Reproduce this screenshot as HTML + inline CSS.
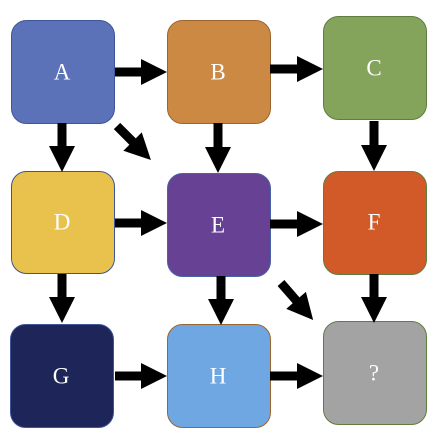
<!DOCTYPE html>
<html><head><meta charset="utf-8"><style>
html,body{margin:0;padding:0;background:#fff;}
svg{display:block;}
text{font-family:"Liberation Serif",serif;font-size:23px;fill:#fff;text-anchor:middle;dominant-baseline:central;}
</style></head><body>
<svg width="444" height="436" viewBox="0 0 444 436" xmlns="http://www.w3.org/2000/svg">
<g stroke-width="1">
<rect x="11.5" y="20.5" width="103" height="103" rx="15" fill="#5b72b8" stroke="#3f5597"/>
<rect x="167.5" y="20.5" width="103" height="103" rx="15" fill="#cc8944" stroke="#9a6530"/>
<rect x="323.5" y="16.5" width="103" height="103" rx="15" fill="#84a45c" stroke="#5e7d3f"/>
<rect x="11.5" y="171.5" width="103" height="102" rx="15" fill="#e8c24c" stroke="#3f5597"/>
<rect x="167.5" y="173.5" width="103" height="103" rx="15" fill="#664194" stroke="#4a62a8"/>
<rect x="323.5" y="171.5" width="103" height="103" rx="15" fill="#d25a28" stroke="#5e7d3f"/>
<rect x="10.5" y="324.5" width="103" height="103" rx="15" fill="#1e2558" stroke="#3f5597"/>
<rect x="167.5" y="324.5" width="103" height="103" rx="15" fill="#6fa7e3" stroke="#9a6530"/>
<rect x="323.5" y="321.5" width="103" height="103" rx="15" fill="#a3a3a3" stroke="#5e7d3f"/>
</g>
<text x="62" y="72">A</text>
<text x="218" y="72">B</text>
<text x="374" y="68">C</text>
<text x="62" y="222">D</text>
<text x="218" y="225">E</text>
<text x="374" y="222">F</text>
<text x="61" y="376">G</text>
<text x="218" y="376">H</text>
<text x="374" y="373">?</text>
<g fill="#000">
<path transform="translate(115,72)" d="M0,-4.5H26V-13L52,0L26,13V4.5H0Z"/>
<path transform="translate(270,69)" d="M0,-4.5H27V-13L53,0L27,13V4.5H0Z"/>
<path transform="translate(62,123) rotate(90)" d="M0,-4.5H23V-13L49,0L23,13V4.5H0Z"/>
<path transform="translate(218,123) rotate(90)" d="M0,-4.5H24V-13L50,0L24,13V4.5H0Z"/>
<path transform="translate(374,121) rotate(90)" d="M0,-4.5H24V-13L50,0L24,13V4.5H0Z"/>
<path transform="translate(115,223)" d="M0,-4.5H26V-13L52,0L26,13V4.5H0Z"/>
<path transform="translate(270,224)" d="M0,-4.5H27V-13L53,0L27,13V4.5H0Z"/>
<path transform="translate(62,274) rotate(90)" d="M0,-4.5H23V-13L49,0L23,13V4.5H0Z"/>
<path transform="translate(221,276) rotate(90)" d="M0,-4.5H23V-13L49,0L23,13V4.5H0Z"/>
<path transform="translate(374,274) rotate(90)" d="M0,-4.5H23V-13L49,0L23,13V4.5H0Z"/>
<path transform="translate(115,376)" d="M0,-4.5H26V-13L52,0L26,13V4.5H0Z"/>
<path transform="translate(270,376)" d="M0,-4.5H27V-13L53,0L27,13V4.5H0Z"/>
<path transform="translate(117,126) rotate(45)" d="M0,-4.5H22V-13L48,0L22,13V4.5H0Z"/>
<path transform="translate(281,283) rotate(49)" d="M0,-4.5H23V-13L49,0L23,13V4.5H0Z"/>
</g>
</svg>
</body></html>
